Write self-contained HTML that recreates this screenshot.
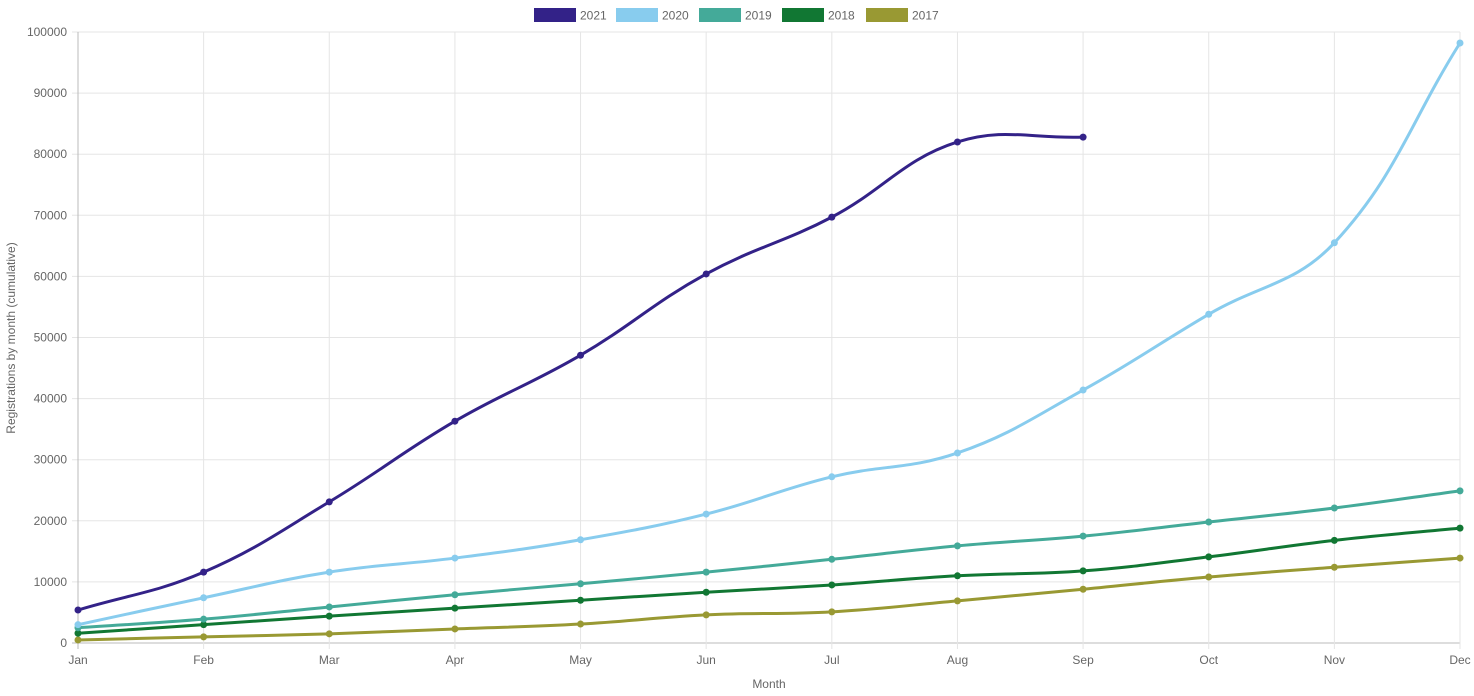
<!DOCTYPE html>
<html><head><meta charset="utf-8"><style>
body{margin:0;background:#fff;}
svg{display:block;font-family:"Liberation Sans",sans-serif;}
</style></head><body>
<svg id="c" width="1474" height="696" xmlns="http://www.w3.org/2000/svg"></svg>
<script>
const s=document.getElementById('c');
let h='';
const X0=78,X1=1460,Y0=643,Y1=32;
const dx=(X1-X0)/11;
const yv=v=>Y0-(v/100000)*(Y0-Y1);
// grid
for(let i=0;i<=10;i++){const y=Y0-i*(Y0-Y1)/10;
h+=`<line x1="${X0-6}" x2="${X1}" y1="${y}" y2="${y}" stroke="${i==0?'#bbb':'#e5e5e5'}"/>`;
h+=`<text x="67" y="${y+4}" text-anchor="end" font-size="12" fill="#666">${i*10000}</text>`;}
const M=['Jan','Feb','Mar','Apr','May','Jun','Jul','Aug','Sep','Oct','Nov','Dec'];
for(let i=0;i<12;i++){const x=X0+i*dx;
h+=`<line x1="${x}" x2="${x}" y1="${Y1}" y2="${Y0+6}" stroke="${i==0?'#bbb':'#e5e5e5'}"/>`;
h+=`<text x="${x}" y="664" text-anchor="middle" font-size="12" fill="#666">${M[i]}</text>`;}
h+=`<text x="769" y="688" text-anchor="middle" font-size="12" fill="#666">Month</text>`;
h+=`<text transform="translate(15,338) rotate(-90)" text-anchor="middle" font-size="12" fill="#666">Registrations by month (cumulative)</text>`;
const S=[
['2017','#999933',[500,1000,1500,2300,3100,4600,5100,6900,8800,10800,12400,13900]],
['2018','#117733',[1600,3000,4400,5700,7000,8300,9500,11000,11800,14100,16800,18800]],
['2019','#44aa99',[2500,3900,5900,7900,9700,11600,13700,15900,17500,19800,22100,24900]],
['2020','#88ccee',[3000,7400,11600,13900,16900,21100,27200,31100,41400,53800,65500,98200]],
['2021','#332288',[5400,11600,23100,36300,47100,60400,69700,82000,82800]]];
function path(P){const t=0.4;let d=`M${P[0][0]},${P[0][1]}`;
const cp=[];
for(let i=0;i<P.length;i++){const p=P[i-1]||P[i],c=P[i],n=P[i+1]||P[i];
const d01=Math.hypot(c[0]-p[0],c[1]-p[1]),d12=Math.hypot(n[0]-c[0],n[1]-c[1]);
let fa=d01/(d01+d12)||0,fb=d12/(d01+d12)||0;fa*=t;fb*=t;
cp.push([[c[0]-fa*(n[0]-p[0]),c[1]-fa*(n[1]-p[1])],[c[0]+fb*(n[0]-p[0]),c[1]+fb*(n[1]-p[1])]]);}
for(let i=1;i<P.length;i++){const a=cp[i-1][1],b=cp[i][0];
d+=` C${a[0]},${a[1]} ${b[0]},${b[1]} ${P[i][0]},${P[i][1]}`;}return d;}
for(const [n,c,v] of S){const P=v.map((y,i)=>[X0+i*dx,yv(y)]);
h+=`<path d="${path(P)}" fill="none" stroke="${c}" stroke-width="3"/>`;
for(const p of P)h+=`<circle cx="${p[0]}" cy="${p[1]}" r="3.5" fill="${c}"/>`;}
const L=[['2021','#332288',534],['2020','#88ccee',616],['2019','#44aa99',699],['2018','#117733',782],['2017','#999933',866]];
for(const [n,c,x] of L){h+=`<rect x="${x}" y="8" width="42" height="14" fill="${c}"/>`;
h+=`<text x="${x+46}" y="19.5" font-size="12" fill="#666">${n}</text>`;}
s.innerHTML=h;
</script>
</body></html>
